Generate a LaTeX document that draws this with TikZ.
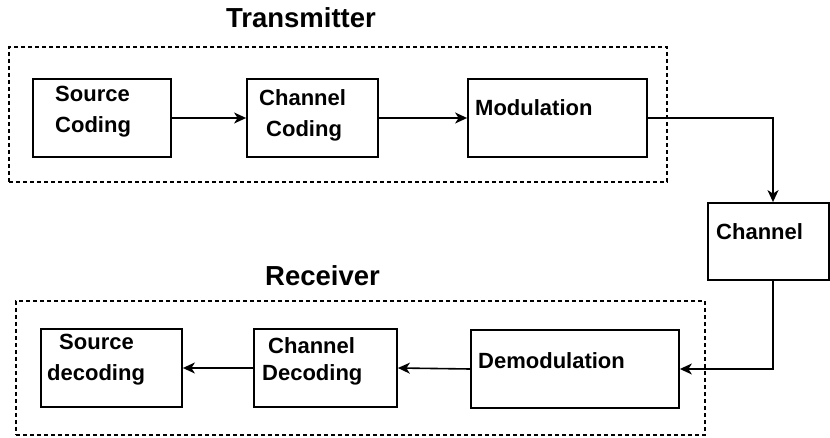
\documentclass[tikz,border=0pt]{standalone}
\usepackage{fontspec}
\setmainfont{Liberation Sans}
\usetikzlibrary{arrows.meta}
\tikzset{
  blk/.style={draw, line width=1.8pt, inner sep=0pt, minimum height=78pt},
  grp/.style={draw, line width=1.7pt, dash pattern=on 4pt off 3pt, inner sep=0pt},
  lbl/.style={anchor=base west, inner sep=0pt, font=\fontsize{22}{24}\selectfont\bfseries},
  ttl/.style={anchor=base, inner sep=0pt, font=\fontsize{27.5}{30}\selectfont\bfseries},
  conn/.style={line width=1.6pt, -{Stealth[length=12pt,width=11pt,inset=3.5pt]}}
}
\begin{document}
\begin{tikzpicture}[x=1pt,y=-1pt]
\useasboundingbox (0,0) rectangle (830,438);
% group frames
\node[grp, minimum width=658pt, minimum height=135pt] (tx) at (338,114.5) {};
\node[grp, minimum width=689pt, minimum height=134pt] (rx) at (360.5,368) {};
% titles
\node[ttl] (ttx) at (301,28) {Transmitter};
\node[ttl] (trx) at (322.5,286) {Receiver};
% blocks
\node[blk, minimum width=138pt] (sc) at (102,118) {};
\node[blk, minimum width=131pt] (cc) at (312.5,118) {};
\node[blk, minimum width=179pt] (mod) at (557.5,118) {};
\node[blk, minimum width=121pt, minimum height=77pt, anchor=west] (ch) at (707,241.5) {};
\node[blk, minimum width=141pt] (sd) at (111.5,368) {};
\node[blk, minimum width=143pt] (cd) at (325.5,368) {};
\node[blk, minimum width=208pt] (dem) at (575,369) {};
\coordinate (chx) at ([xshift=66pt]ch.west);
% labels
\node[lbl] (l1a) at (55,102) {Source};
\node[lbl] (l1b) at (55,133) {Coding};
\node[lbl] (l2a) at (259,106) {Channel};
\node[lbl] (l2b) at (266,137) {Coding};
\node[lbl] (l3) at (475,116) {Modulation};
\node[lbl] (l4) at (716,240) {Channel};
\node[lbl] (l5) at (478,368) {Demodulation};
\node[lbl] (l6a) at (268,353) {Channel};
\node[lbl] (l6b) at (262,380) {Decoding};
\node[lbl] (l7a) at (59,349) {Source};
\node[lbl] (l7b) at (47,380) {decoding};
% connectors
\draw[conn] (mod.east) -| (chx |- ch.north);
\draw[conn] (chx |- ch.south) |- (dem.east);
\draw[conn] (sc.east) -- (cc.west);
\draw[conn] (cc.east) -- (mod.west);
\draw[conn] (dem.west) -- (cd.east);
\draw[conn] (cd.west) -- (sd.east);
\end{tikzpicture}
\end{document}
